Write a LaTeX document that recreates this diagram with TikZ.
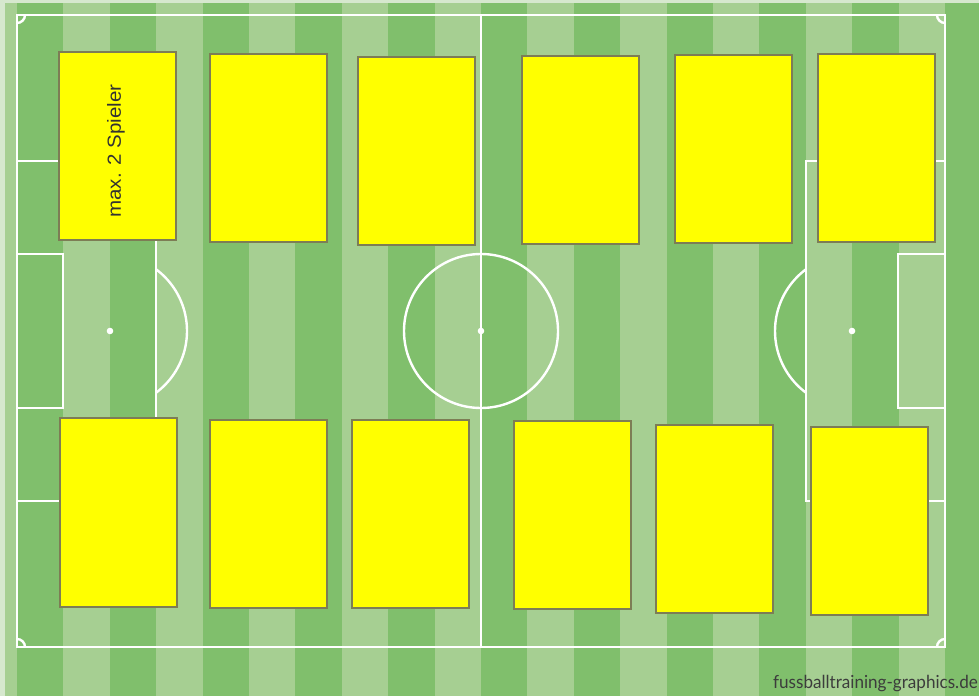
\documentclass[tikz,border=0pt]{standalone}
\usepackage{fontspec}
\newfontfamily\arialf{Liberation Sans}
\newfontfamily\wmf{Lato}
\definecolor{darkg}{RGB}{128,191,108}
\definecolor{lightg}{RGB}{166,207,146}
\definecolor{edgeg}{RGB}{214,232,206}
\definecolor{boxline}{RGB}{125,125,85}
\definecolor{zoneyellow}{RGB}{255,255,0}
\definecolor{txtgray}{RGB}{50,50,50}
\definecolor{wmgray}{RGB}{60,60,60}
\begin{document}
\begin{tikzpicture}[x=1pt,y=-1pt,
  fieldline/.style={draw=white,line width=2.4pt},
  zone/.style={draw=boxline,fill=zoneyellow,line width=1.4pt},
  spot/.style={fill=white}]
\useasboundingbox (0,0) rectangle (979,696);
% grass
\fill[edgeg] (0,0) rectangle (979,696);
\fill[lightg] (5,3) rectangle (979,696);
\foreach \i in {0,2,...,18} \fill[darkg] ({17+\i*46.4},3) rectangle ({17+(\i+1)*46.4},696);
\fill[darkg] (945,3) rectangle (979,696);
% field markings
\draw[fieldline] (17,15) rectangle (945,647);
\draw[fieldline] (481,15) -- (481,647);
\draw[fieldline] (481,331) circle[radius=77pt];
\draw[fieldline] (17,161) rectangle (156,501);
\draw[fieldline] (17,254) rectangle (63,408);
\draw[fieldline] (806,161) rectangle (945,501);
\draw[fieldline] (898,254) rectangle (945,408);
\fill[spot] (110,331) circle[radius=3.3pt];
\fill[spot] (481,331) circle[radius=3.3pt];
\fill[spot] (852,331) circle[radius=3.3pt];
\begin{scope}
  \clip (156,0) rectangle (300,696);
  \draw[fieldline] (110,331) circle[radius=77pt];
\end{scope}
\begin{scope}
  \clip (600,0) rectangle (806,696);
  \draw[fieldline] (852,331) circle[radius=77pt];
\end{scope}
\begin{scope}
  \clip (17,15) rectangle (945,647);
  \draw[fieldline] (17,15) circle[radius=8pt];
  \draw[fieldline] (945,15) circle[radius=8pt];
  \draw[fieldline] (17,647) circle[radius=8pt];
  \draw[fieldline] (945,647) circle[radius=8pt];
\end{scope}
% yellow zones, top row
\draw[zone] (59,52) rectangle (176,240);
\draw[zone] (210,54) rectangle (327,242);
\draw[zone] (358,57) rectangle (475,245);
\draw[zone] (522,56) rectangle (639,244);
\draw[zone] (675,55) rectangle (792,243);
\draw[zone] (818,54) rectangle (935,242);
% bottom row
\draw[zone] (60,418) rectangle (177,607);
\draw[zone] (210,420) rectangle (327,608);
\draw[zone] (352,420) rectangle (469,608);
\draw[zone] (514,421) rectangle (631,609);
\draw[zone] (656,425) rectangle (773,613);
\draw[zone] (811,427) rectangle (928,615);
% labels
\node[rotate=90, inner sep=0, text=txtgray, font=\arialf\fontsize{19}{19}\selectfont] (lbl) at (116,151) {\scalebox{1.08}[1]{max. 2 Spieler}};
\node[anchor=base east, inner sep=0, text=wmgray, font=\wmf\fontsize{18}{18}\selectfont] (wm) at (978,688) {\scalebox{0.95}[1]{fussballtraining-graphics.de}};
\end{tikzpicture}
\end{document}
